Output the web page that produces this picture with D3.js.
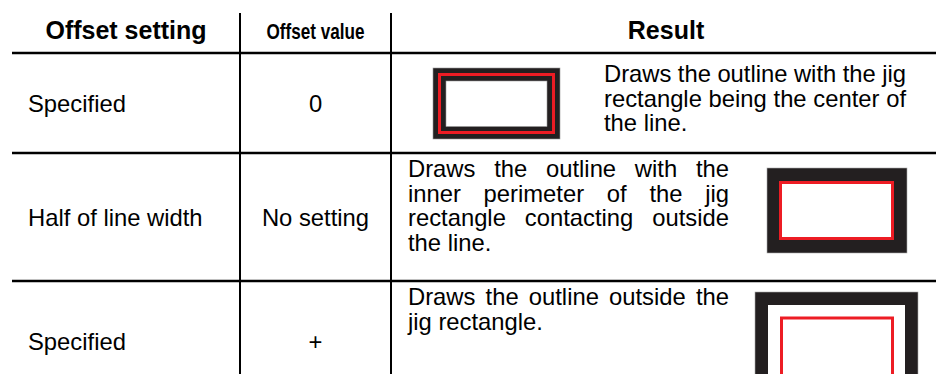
<!DOCTYPE html>
<html>
<head>
<meta charset="utf-8">
<script src="https://cdn.jsdelivr.net/npm/d3@7"></script>
<style>
  html, body { margin: 0; padding: 0; background: #fff; }
  svg { display: block; }
  text { font-family: "Liberation Sans", Arial, Helvetica, sans-serif; fill: #000; }
</style>
</head>
<body>
<svg id="chart" width="936" height="374"></svg>
<script>
// ---- data ----
const headers = ["Offset setting", "Offset value", "Result"];
const offsetSettings = ["Specified", "Half of line width", "Specified"];
const offsetValues = ["0", "No setting", "+"];
const resultLines = [
  ["Draws the outline with the jig", "rectangle being the center of", "the line."],
  ["Draws the outline with the", "inner perimeter of the jig", "rectangle contacting outside", "the line."],
  ["Draws the outline outside the", "jig rectangle."]
];
const jigModes = ["center", "inside", "outside"];

// ---- layout ----
const W = 936, H = 374;
const svg = d3.select("#chart");
const rowEdges = [0, 53, 153, 281, 374];
const colEdges = [12, 240, 391, 936];
const BLACK = "#231f20", RED = "#ed1c24";
const FS = 23.8;

const rowCenter = i => (rowEdges[i] + rowEdges[i + 1]) / 2;
const colCenter = j => (colEdges[j] + colEdges[j + 1]) / 2;

// grid lines
svg.selectAll("line.h").data(rowEdges.slice(1, 4)).join("line")
  .attr("class", "h").attr("x1", 12).attr("x2", W)
  .attr("y1", d => d).attr("y2", d => d)
  .attr("stroke", "#000").attr("stroke-width", 2.5);
svg.selectAll("line.v").data(colEdges.slice(1, 3)).join("line")
  .attr("class", "v").attr("x1", d => d).attr("x2", d => d)
  .attr("y1", 13).attr("y2", H)
  .attr("stroke", "#000").attr("stroke-width", 2);

// headers
const hdr = svg.append("g");
hdr.append("text").attr("x", colCenter(0)).attr("y", 39)
  .attr("text-anchor", "middle").attr("font-weight", "bold").attr("font-size", 25)
  .text(headers[0]);
hdr.append("text").attr("x", colCenter(1)).attr("y", 39)
  .attr("text-anchor", "middle").attr("font-weight", "bold").attr("font-size", 22)
  .style("font-family", "'Liberation Sans Narrow', 'Arial Narrow', 'Liberation Sans', sans-serif")
  .attr("textLength", 98).attr("lengthAdjust", "spacingAndGlyphs")
  .text(headers[1]);
hdr.append("text").attr("x", 666).attr("y", 39)
  .attr("text-anchor", "middle").attr("font-weight", "bold").attr("font-size", 25)
  .text(headers[2]);

// body column 1 & 2
offsetSettings.forEach((s, i) => {
  const y = i === 2 ? 350 : rowCenter(i + 1) + 8.5;
  svg.append("text").attr("x", 28).attr("y", y).attr("font-size", FS).text(s);
  svg.append("text").attr("x", colCenter(1)).attr("y", y)
    .attr("text-anchor", "middle").attr("font-size", FS).text(offsetValues[i]);
});

// justified paragraph
function paragraph(lines, x0, x1, yFirst, lh) {
  const g = svg.append("g");
  lines.forEach((ln, k) => {
    const y = yFirst + k * lh;
    const words = ln.split(" ");
    const last = k === lines.length - 1;
    const nodes = words.map(w => g.append("text").attr("y", y).attr("font-size", FS).text(w));
    const widths = nodes.map(n => n.node().getComputedTextLength());
    const total = d3.sum(widths);
    const spaceW = FS * 0.278;
    const gap = (!last && words.length > 1) ? (x1 - x0 - total) / (words.length - 1) : spaceW;
    let x = x0;
    nodes.forEach((n, m) => { n.attr("x", x); x += widths[m] + gap; });
  });
}
paragraph(resultLines[0], 604, 906, 82, 24.5);
paragraph(resultLines[1], 408, 729, 177, 24.5);
paragraph(resultLines[2], 408, 729, 305, 24.5);

// jig pictures
function jig(mode) {
  const g = svg.append("g");
  if (mode === "center") {
    g.append("rect").attr("x", 433).attr("y", 68).attr("width", 127).attr("height", 71)
      .attr("fill", BLACK).attr("stroke", "#999").attr("stroke-width", 0.6);
    g.append("rect").attr("x", 439.5).attr("y", 74.5).attr("width", 114).attr("height", 58)
      .attr("fill", "none").attr("stroke", RED).attr("stroke-width", 3);
    g.append("rect").attr("x", 446).attr("y", 81).attr("width", 101).attr("height", 45.5)
      .attr("fill", "#fff").attr("stroke", "#999").attr("stroke-width", 0.6);
  } else if (mode === "inside") {
    g.append("rect").attr("x", 767).attr("y", 168).attr("width", 140).attr("height", 85)
      .attr("fill", BLACK).attr("stroke", "#aaa").attr("stroke-width", 0.6);
    g.append("rect").attr("x", 780.5).attr("y", 182.5).attr("width", 112).attr("height", 56)
      .attr("fill", "#fff").attr("stroke", RED).attr("stroke-width", 3);
  } else {
    g.append("rect").attr("x", 755).attr("y", 292).attr("width", 163).attr("height", 120)
      .attr("fill", BLACK).attr("stroke", "#aaa").attr("stroke-width", 0.6);
    g.append("rect").attr("x", 768).attr("y", 305).attr("width", 137).attr("height", 100)
      .attr("fill", "#fff");
    g.append("rect").attr("x", 781.5).attr("y", 318).attr("width", 111).attr("height", 80)
      .attr("fill", "none").attr("stroke", RED).attr("stroke-width", 3);
  }
}
jigModes.forEach(jig);
</script>
</body>
</html>
